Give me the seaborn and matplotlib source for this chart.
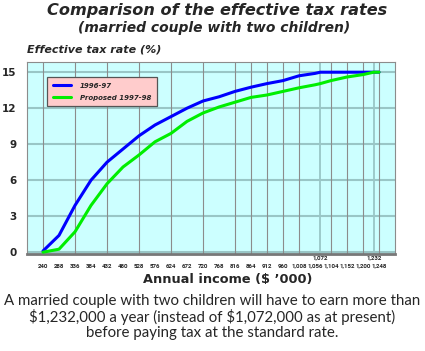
import matplotlib
matplotlib.use("Agg")
import matplotlib.pyplot as plt
import seaborn as sns
import pandas as pd

income = [240, 288, 336, 384, 432, 480, 528, 576, 624, 672, 720, 768, 816, 864,
          912, 960, 1008, 1056, 1072, 1104, 1152, 1200, 1232, 1248]
rate_9697 = [0.1, 1.4, 3.9, 6.0, 7.5, 8.6, 9.7, 10.6, 11.3, 12.0, 12.6, 12.95, 13.4, 13.75,
             14.05, 14.3, 14.7, 14.9, 15.0, 15.0, 15.0, 15.0, 15.0, 15.0]
rate_9798 = [0.0, 0.25, 1.7, 3.9, 5.7, 7.1, 8.1, 9.2, 9.9, 10.9, 11.6, 12.1, 12.5, 12.9,
             13.1, 13.4, 13.7, 13.95, 14.05, 14.3, 14.6, 14.8, 15.0, 15.0]
series_names = ["1996-97", "Proposed 1997-98"]
main_ticks = [240, 288, 336, 384, 432, 480, 528, 576, 624, 672, 720, 768, 816, 864,
              912, 960, 1008, 1056, 1104, 1152, 1200, 1248]
extra_ticks = [1072, 1232]
grid_x = [240, 336, 432, 528, 624, 720, 816, 864, 912, 960, 1008, 1104, 1152, 1200, 1248]
y_ticks = [0, 3, 6, 9, 12, 15]

df = pd.DataFrame({
    "income": income * 2,
    "rate": rate_9697 + rate_9798,
    "series": [series_names[0]] * len(income) + [series_names[1]] * len(income),
})

sns.set_style("white")
fig = plt.figure(figsize=(4.25, 3.51), dpi=100)
ax = fig.add_axes([27 / 425, 1 - 254 / 351, 368 / 425, 192 / 351])
ax.set_facecolor("#ccffff")

for y in y_ticks:
    ax.axhline(y, color="#99c6c6", lw=1.5, zorder=1)
for x in grid_x:
    ax.axvline(x, color="#8c8c8c", lw=0.8, zorder=1)
for x in extra_ticks:
    ax.axvline(x, color="#99c6c6", lw=1.3, zorder=1)

sns.lineplot(data=df, x="income", y="rate", hue="series",
             palette={series_names[0]: "#0000ff", series_names[1]: "#00ee00"},
             lw=2.2, ax=ax, zorder=3, legend=True)

tick_font = "Roboto"
ax.set_xlim(192, 1296)
ax.set_ylim(-0.15, 15.85)
ax.set_xticks(main_ticks)
ax.set_xticklabels([f"{v:,}" for v in main_ticks], fontsize=4.4, fontweight="bold",
                   family=tick_font)
ax.tick_params(axis="x", length=0, pad=7)
ax.set_yticks(y_ticks)
ax.set_yticklabels([str(v) for v in y_ticks], fontsize=7.5, fontweight="bold")
ax.tick_params(axis="y", length=0, pad=7.5)
for x in extra_ticks:
    ax.text(x, -0.3, f"{x:,}", ha="center", va="top", fontsize=4.4,
            fontweight="bold", family=tick_font, transform=ax.transData)
ax.set_xlabel("")
ax.set_ylabel("")
for s in ["top", "right", "left"]:
    ax.spines[s].set_color("#8c8c8c")
    ax.spines[s].set_linewidth(0.8)
ax.spines["bottom"].set_color("#777777")
ax.spines["bottom"].set_linewidth(2.0)

leg = ax.legend(loc="upper left", bbox_to_anchor=(0.045, 0.94), frameon=True,
                fancybox=False, prop={"size": 5.0, "weight": "bold", "style": "italic"},
                handlelength=2.6, borderpad=0.8, labelspacing=0.9, handletextpad=1.3)
leg.get_frame().set_facecolor("#ffcccc")
leg.get_frame().set_edgecolor("#555555")
leg.get_frame().set_linewidth(0.9)
leg.get_frame().set_alpha(1)
for line in leg.get_lines():
    line.set_linewidth(2.2)

fig.text(217 / 425, 1 - 10 / 351, "Comparison of the effective tax rates", ha="center",
         va="center", fontsize=11.6, fontweight="heavy", style="italic")
fig.text(214 / 425, 1 - 28 / 351, "(married couple with two children)", ha="center",
         va="center", fontsize=10, fontweight="heavy", style="italic")
fig.text(27 / 425, 1 - 50 / 351, "Effective tax rate (%)", ha="left", va="center",
         fontsize=8, fontweight="heavy", style="italic")
fig.text(228 / 425, 1 - 279 / 351, "Annual income ($ \u2019000)", ha="center", va="center",
         fontsize=9.3, fontweight="heavy")
caption = ("A married couple with two children will have to earn more than\n"
           "\\$1,232,000 a year (instead of \\$1,072,000 as at present)\n"
           "before paying tax at the standard rate.")
fig.text(0.5, 1 - 317 / 351, caption, ha="center", va="center", fontsize=10.8,
         linespacing=1.12, family="Lato")

fig.savefig("out.png", dpi=100)
